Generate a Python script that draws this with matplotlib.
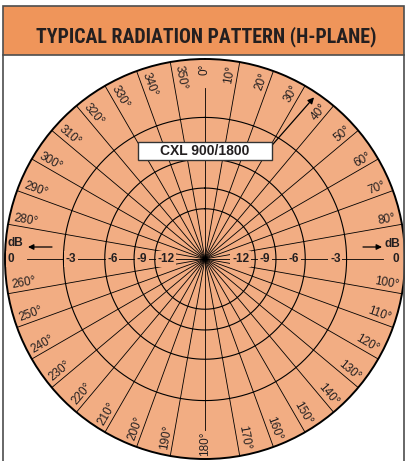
import numpy as np
import matplotlib
matplotlib.use("Agg")
import matplotlib.pyplot as plt
from matplotlib import font_manager as fm
from matplotlib.patches import Rectangle
from matplotlib.lines import Line2D
from matplotlib.transforms import ScaledTranslation

# ---------------- data ----------------
title = "TYPICAL RADIATION PATTERN (H-PLANE)"
model_label = "CXL 900/1800"
spoke_angles = list(range(0, 360, 10))                # degrees (compass, clockwise)
angle_labels = [f"{a}°" for a in spoke_angles]
db_levels = [0, -3, -6, -9, -12]                      # ring levels in dB
db_labels = ["0", "-3", "-6", "-9", "-12"]
unit_label = "dB"

# ---------------- style ----------------
W, H = 406, 461
PEACH = "#F2AD83"
ORANGE = "#EF955A"
FRAME = "#4d4d4d"
TXT = "#231f20"
LAB_FONT = ["Liberation Sans", "DejaVu Sans"]

installed = {f.name for f in fm.fontManager.ttflist}
title_family = next((f for f in ("Roboto Condensed", "Archivo Narrow",
                                 "Barlow Condensed", "Liberation Sans Narrow")
                     if f in installed), "Liberation Sans")

def fx(x):
    return x / W

def fy(y):
    return 1 - y / H

fig = plt.figure(figsize=(W / 100, H / 100), dpi=100)
fig.patch.set_facecolor("white")

# header box and panel frame
fig.add_artist(Rectangle((fx(3), fy(55)), 401 / W, 49 / H, transform=fig.transFigure,
                         facecolor=ORANGE, edgecolor=FRAME, lw=1.2))
ttl = fig.text(fx(206), fy(42), title, ha="center", va="baseline", fontsize=17,
               fontweight="bold", color=TXT, family=[title_family, "DejaVu Sans"])
fig.canvas.draw()
tw = ttl.get_window_extent().width
if tw > 343:
    ttl.set_fontsize(17 * 343 / tw)
for xx in (3, 404):
    fig.add_artist(Line2D([fx(xx), fx(xx)], [0, fy(55)], color=FRAME, lw=1.2))

# polar chart
ax = fig.add_axes([fx(5), fy(459), 400 / W, 400 / H], projection="polar")
ax.set_theta_zero_location("N")
ax.set_theta_direction(-1)
ax.set_ylim(0, 1)
ax.set_facecolor(PEACH)
ax.grid(False)
ax.set_xticks([])
ax.set_yticks([])
ax.spines["polar"].set_linewidth(1.4)
ax.spines["polar"].set_color("black")

def amp(db):
    return 10 ** (db / 20.0)

# rings
th = np.linspace(0, 2 * np.pi, 721)
for db in db_levels[1:]:
    ax.plot(th, np.full_like(th, amp(db)), color="black", lw=0.8, zorder=2)

# spokes
for a in spoke_angles:
    if a in (0, 180):
        rmax = 0.855
    elif a in (90, 270):
        rmax = 0.89
    else:
        rmax = 1.0
    ax.plot([np.deg2rad(a)] * 2, [0, rmax], color="black", lw=0.6, zorder=2)

# angle labels
def up_offset(phi_deg, d_px):
    p = np.deg2rad(phi_deg)
    dx, dy = -np.sin(p) * d_px, np.cos(p) * d_px
    return ax.transData + ScaledTranslation(dx / 100, dy / 100, fig.dpi_scale_trans)

for a, lab in zip(spoke_angles, angle_labels):
    if a in (90, 270):
        continue
    t = np.deg2rad(a)
    if a == 0:
        ax.text(t, 0.95, lab, rotation=90, rotation_mode="anchor", ha="center",
                va="center", fontsize=8.5, family=LAB_FONT, color=TXT, zorder=3)
    elif a == 180:
        ax.text(t, 0.925, lab, rotation=90, rotation_mode="anchor", ha="center",
                va="center", fontsize=8.5, family=LAB_FONT, color=TXT, zorder=3)
    elif a < 180:
        phi = 90 - a
        ax.text(t, 0.975, lab, rotation=phi, rotation_mode="anchor", ha="right",
                va="bottom", fontsize=8.5, family=LAB_FONT, color=TXT,
                transform=up_offset(phi, 1.5), zorder=3)
    else:
        phi = 270 - a
        ax.text(t, 0.975, lab, rotation=phi, rotation_mode="anchor", ha="left",
                va="bottom", fontsize=8.5, family=LAB_FONT, color=TXT,
                transform=up_offset(phi, 1.5), zorder=3)

# dB level labels along horizontal axis
for db, lab in zip(db_levels, db_labels):
    r = amp(db)
    box = dict(facecolor=PEACH, edgecolor="none", pad=1.2)
    ax.text(np.deg2rad(270), r - 0.012, lab, ha="left", va="center", fontsize=8.5,
            fontweight="bold", family=LAB_FONT, color=TXT, bbox=box, zorder=4)
    ax.text(np.deg2rad(90), r - 0.03, lab, ha="right", va="center", fontsize=8.5,
            fontweight="bold", family=LAB_FONT, color=TXT, bbox=box, zorder=4)

# dB unit labels with arrows
for xt, yt, x0, x1, ya in ((0.026, 0.54, 0.1175, 0.0575, 0.53),
                           (0.969, 0.5375, 0.895, 0.9425, 0.53)):
    ax.text(xt, yt, unit_label, transform=ax.transAxes, ha="center", va="center",
            fontsize=8.5, fontweight="bold", family=LAB_FONT, color=TXT, zorder=4)
    ax.annotate("", xy=(x1, ya), xytext=(x0, ya), xycoords="axes fraction",
                textcoords="axes fraction",
                arrowprops=dict(arrowstyle="-|>", color="black", lw=0.9,
                                mutation_scale=8, shrinkA=0, shrinkB=0), zorder=4)

# pointer arrow from model label
ax.annotate("", xy=(np.deg2rad(34), 0.975), xytext=(np.deg2rad(30.5), 0.66),
            arrowprops=dict(arrowstyle="-|>", color="black", lw=0.9,
                            mutation_scale=9, shrinkA=0, shrinkB=0), zorder=4)

# model label box
ax.add_patch(Rectangle((0.3325, 0.7475), 0.335, 0.045, transform=ax.transAxes,
                       facecolor="white", edgecolor="#333333", lw=1.0, zorder=5,
                       clip_on=False))
ax.text(0.5, 0.77, model_label, transform=ax.transAxes, ha="center", va="center",
        fontsize=10, fontweight="bold", family=LAB_FONT, color=TXT, zorder=6)

fig.savefig("out.png", dpi=100)
